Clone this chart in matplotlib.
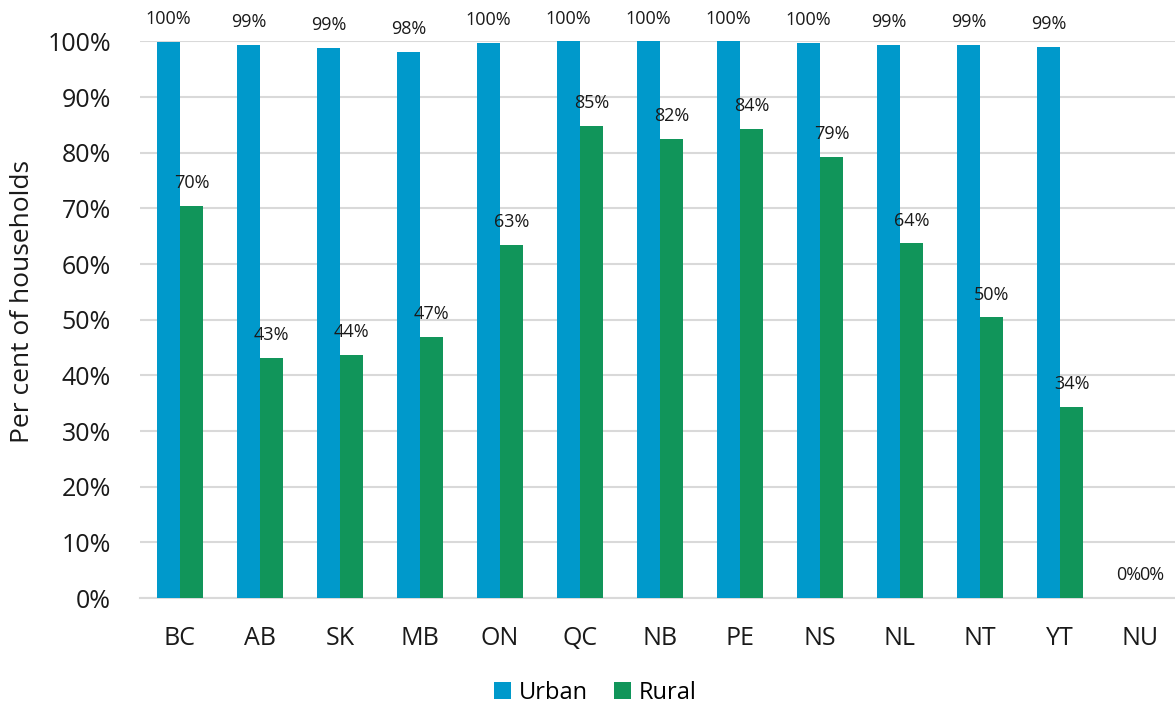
import matplotlib
matplotlib.use("Agg")
import matplotlib.pyplot as plt
import numpy as np
from matplotlib.patches import Patch

plt.rcParams['font.family'] = ['Open Sans', 'DejaVu Sans']

provinces = ["BC", "AB", "SK", "MB", "ON", "QC", "NB", "PE", "NS", "NL", "NT", "YT", "NU"]
urban = [99.9, 99.4, 98.9, 98.1, 99.8, 100.0, 100.0, 100.0, 99.8, 99.4, 99.4, 99.0, 0.0]
rural = [70.4, 43.2, 43.7, 46.9, 63.4, 84.8, 82.4, 84.3, 79.2, 63.7, 50.4, 34.4, 0.0]
series_names = ["Urban", "Rural"]
colors = ["#0099CB", "#11955A"]

fig = plt.figure(figsize=(11.75, 7.06), dpi=100)
ax = fig.add_axes([140 / 1175, 108 / 706, 1040 / 1175, 556.6 / 706])

x = np.arange(len(provinces))
w = 0.29
for vals, off, col in zip([urban, rural], [-w / 2, w / 2], colors):
    bars = ax.bar(x + off, vals, width=w, color=col, zorder=3)
    for b, v in zip(bars, vals):
        ax.annotate(f"{v:.0f}%", (b.get_x() + b.get_width() / 2, v),
                    xytext=(0, 10), textcoords="offset points",
                    ha="center", va="bottom", fontsize=13, color="#1a1a1a",
                    annotation_clip=False)

ax.set_xlim(-0.5, len(provinces) - 0.5)
ax.set_ylim(0, 100)
ax.set_yticks(np.arange(0, 101, 10))
ax.set_yticklabels([f"{t}%" for t in range(0, 101, 10)])
ax.set_xticks(x)
ax.set_xticklabels(provinces)
ax.grid(axis="y", color="#d9d9d9", linewidth=1.5, zorder=0)
for s in ["top", "right", "left"]:
    ax.spines[s].set_visible(False)
ax.spines["bottom"].set_color("#d9d9d9")
ax.spines["bottom"].set_linewidth(1.5)
ax.tick_params(axis="both", length=0, labelsize=18, colors="#1a1a1a")
ax.tick_params(axis="y", pad=21)
ax.tick_params(axis="x", pad=20)
ax.set_ylabel("Per cent of households", fontsize=19, color="#1a1a1a")
ax.yaxis.set_label_coords(-0.101, 0.532)

handles = [Patch(facecolor=c, label=n) for c, n in zip(colors, series_names)]
fig.legend(handles=handles, loc="center", bbox_to_anchor=(595 / 1175, 1 - 693 / 706),
           ncol=2, frameon=False, fontsize=17, handlelength=0.75, handleheight=0.75,
           handletextpad=0.3, columnspacing=1.1)

fig.savefig("out.png", dpi=100)
